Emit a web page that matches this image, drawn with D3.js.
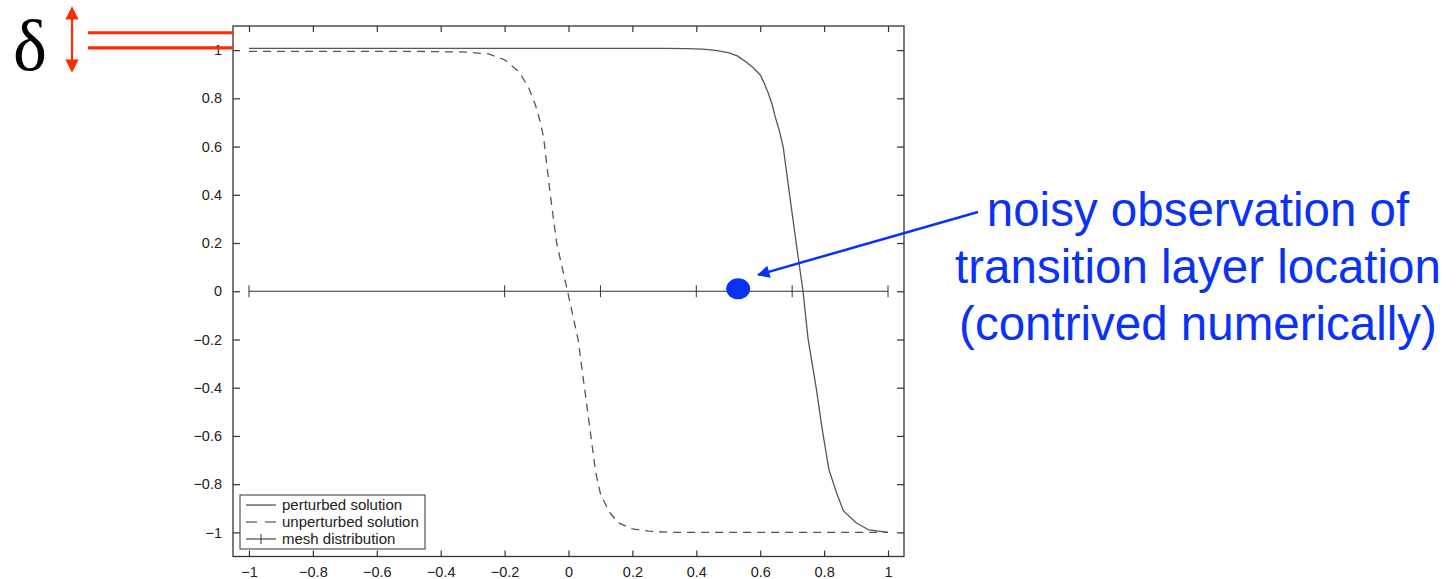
<!DOCTYPE html>
<html>
<head>
<meta charset="utf-8">
<script src="https://cdn.jsdelivr.net/npm/d3@7"></script>
<style>
  body { margin: 0; background: #fff; }
  svg { display: block; font-family: "Liberation Sans", Arial, Helvetica, sans-serif; }
  .axis text { fill: #222; }
  .axis line { stroke: #333; stroke-width: 1.2; }
</style>
</head>
<body>
<svg id="chart" width="1456" height="579"></svg>
<script>
// values
let xTicks = [-1, -0.8, -0.6, -0.4, -0.2, 0, 0.2, 0.4, 0.6, 0.8, 1];
let yTicks = [-1, -0.8, -0.6, -0.4, -0.2, 0, 0.2, 0.4, 0.6, 0.8, 1];

let perturbedX = [-1, 0.3, 0.37, 0.42, 0.46, 0.5, 0.53, 0.56, 0.58, 0.6, 0.612, 0.625, 0.636, 0.647, 0.66, 0.672, 0.69, 0.7125, 0.734, 0.75, 0.775, 0.795, 0.815, 0.84, 0.86, 0.9, 0.94, 1];
let perturbedY = [1.007, 1.007, 1.006, 1.004, 0.999, 0.99, 0.975, 0.947, 0.925, 0.897, 0.865, 0.822, 0.78, 0.723, 0.665, 0.598, 0.42, 0.2, 0, -0.2, -0.4, -0.58, -0.74, -0.84, -0.91, -0.96, -0.99, -1.0];

let unperturbedX = [-1, -0.5, -0.32, -0.25, -0.2, -0.155, -0.125, -0.103, -0.088, -0.078, -0.057, -0.037, -0.003, 0.03, 0.05, 0.07, 0.085, 0.1, 0.125, 0.155, 0.2, 0.25, 0.32, 1];
let unperturbedY = [0.995, 0.995, 0.992, 0.984, 0.96, 0.91, 0.845, 0.77, 0.70, 0.64, 0.40, 0.20, 0, -0.2, -0.4, -0.6, -0.75, -0.84, -0.91, -0.96, -0.985, -0.995, -1.0, -1.0];

let meshX = [-1, -0.2, 0.1, 0.4, 0.7, 1];

let legendLabels = ["perturbed solution", "unperturbed solution", "mesh distribution"];

let observation = {x: 0.531, y: 0.01};
let deltaTop = 1.07;      // upper red marker
let deltaBottom = 1.007;  // lower red marker (top of perturbed curve)

let noteLines = ["noisy observation of", "transition layer location", "(contrived numerically)"];

let svg = d3.select("#chart");
let plotLeft = 233, plotRight = 904, plotTop = 26, plotBottom = 556.5;

let xScale = d3.scaleLinear().domain([-1.05, 1.05]).range([plotLeft, plotRight]);
let yScale = d3.scaleLinear().domain([-1.1, 1.1]).range([plotBottom, plotTop]);

let fmt = d3.format("");
let labelSize = 14.5;

// axes, ticks pointing inward on all four sides
svg.append("g").attr("class", "axis")
    .attr("transform", "translate(0," + plotBottom + ")")
    .call(d3.axisBottom(xScale).tickValues(xTicks).tickSizeInner(-6).tickSizeOuter(0).tickPadding(10).tickFormat(fmt))
    .attr("font-size", labelSize).attr("font-family", null)
    .call(g => g.select(".domain").remove());
svg.append("g").attr("class", "axis")
    .attr("transform", "translate(0," + plotTop + ")")
    .call(d3.axisTop(xScale).tickValues(xTicks).tickSizeInner(-6).tickSizeOuter(0).tickFormat(""))
    .call(g => g.select(".domain").remove());
svg.append("g").attr("class", "axis")
    .attr("transform", "translate(" + plotLeft + ",0)")
    .call(d3.axisLeft(yScale).tickValues(yTicks).tickSizeInner(-7).tickSizeOuter(0).tickPadding(11).tickFormat(fmt))
    .attr("font-size", labelSize).attr("font-family", null)
    .call(g => g.select(".domain").remove());
svg.append("g").attr("class", "axis")
    .attr("transform", "translate(" + plotRight + ",0)")
    .call(d3.axisRight(yScale).tickValues(yTicks).tickSizeInner(-7).tickSizeOuter(0).tickFormat(""))
    .call(g => g.select(".domain").remove());

svg.append("rect")
    .attr("x", plotLeft).attr("y", plotTop)
    .attr("width", plotRight - plotLeft).attr("height", plotBottom - plotTop)
    .attr("fill", "none").attr("stroke", "#333").attr("stroke-width", 1.3);

let line = d3.line()
    .x(d => xScale(d[0]))
    .y(d => yScale(d[1]));

// mesh distribution along y = 0
svg.append("line")
    .attr("x1", xScale(meshX[0])).attr("x2", xScale(meshX[meshX.length - 1]))
    .attr("y1", yScale(0)).attr("y2", yScale(0))
    .attr("stroke", "#333").attr("stroke-width", 1.2);
svg.selectAll(".mesh").data(meshX).enter().append("line")
    .attr("class", "mesh")
    .attr("x1", d => xScale(d)).attr("x2", d => xScale(d))
    .attr("y1", yScale(0) - 6).attr("y2", yScale(0) + 6)
    .attr("stroke", "#333").attr("stroke-width", 1);

svg.append("path")
    .datum(d3.zip(unperturbedX, unperturbedY))
    .attr("d", line)
    .attr("fill", "none").attr("stroke", "#555").attr("stroke-width", 1.3)
    .attr("stroke-dasharray", "8,6");

svg.append("path")
    .datum(d3.zip(perturbedX, perturbedY))
    .attr("d", line)
    .attr("fill", "none").attr("stroke", "#555").attr("stroke-width", 1.3);

// legend
let lg = svg.append("g").attr("transform", "translate(240,495)");
lg.append("rect").attr("width", 185).attr("height", 54)
    .attr("fill", "#fff").attr("stroke", "#333").attr("stroke-width", 1);
legendLabels.forEach(function (label, i) {
    let y = 10 + i * 17;
    let l = lg.append("line").attr("x1", 6).attr("x2", 36).attr("y1", y).attr("y2", y)
        .attr("stroke", "#333").attr("stroke-width", 1.1);
    if (i === 1) {
        l.attr("stroke-dasharray", "11,8");
    }
    if (i === 2) {
        lg.append("line").attr("x1", 21).attr("x2", 21).attr("y1", y - 5).attr("y2", y + 5)
            .attr("stroke", "#333").attr("stroke-width", 1);
    }
    lg.append("text").attr("x", 42).attr("y", y + 5)
        .attr("font-size", 15).attr("fill", "#222").text(label);
});

// delta annotation
let red = "#ff2a00";
[deltaTop, deltaBottom].forEach(function (v) {
    svg.append("line")
        .attr("x1", 88).attr("x2", plotLeft)
        .attr("y1", yScale(v) - 0.5).attr("y2", yScale(v) - 0.5)
        .attr("stroke", red).attr("stroke-width", 3.2);
});
let defs = svg.append("defs");
defs.append("marker").attr("id", "redHead")
    .attr("viewBox", "0 0 10 10").attr("refX", 8).attr("refY", 5)
    .attr("markerWidth", 6).attr("markerHeight", 6).attr("orient", "auto-start-reverse")
    .attr("markerUnits", "strokeWidth")
    .append("path").attr("d", "M0,0 L10,5 L0,10 z").attr("fill", red);
svg.append("line")
    .attr("x1", 72).attr("x2", 72).attr("y1", 9).attr("y2", 70)
    .attr("stroke", red).attr("stroke-width", 2.2)
    .attr("marker-start", "url(#redHead)").attr("marker-end", "url(#redHead)");
svg.append("text")
    .attr("x", 13).attr("y", 70)
    .attr("font-family", "'Liberation Serif', 'DejaVu Serif', serif")
    .attr("font-size", 72).attr("fill", "#000").text("δ");

// observation point and note
let blue = "#0a32f5";
svg.append("ellipse")
    .attr("cx", xScale(observation.x)).attr("cy", yScale(observation.y))
    .attr("rx", 12).attr("ry", 10.5).attr("fill", blue);
defs.append("marker").attr("id", "blueHead")
    .attr("viewBox", "0 0 10 10").attr("refX", 9).attr("refY", 5)
    .attr("markerWidth", 7).attr("markerHeight", 5).attr("orient", "auto")
    .attr("markerUnits", "strokeWidth")
    .append("path").attr("d", "M0,0 L10,5 L0,10 z").attr("fill", blue);
svg.append("line")
    .attr("x1", 978).attr("y1", 212)
    .attr("x2", xScale(observation.x) + 20).attr("y2", yScale(observation.y) - 14)
    .attr("stroke", blue).attr("stroke-width", 2.5)
    .attr("marker-end", "url(#blueHead)");

svg.append("g").selectAll("text").data(noteLines).enter().append("text")
    .attr("x", 1198).attr("y", (d, i) => 226 + i * 57)
    .attr("text-anchor", "middle")
    .attr("font-size", 47.5).attr("fill", blue)
    .text(d => d);
</script>
</body>
</html>
